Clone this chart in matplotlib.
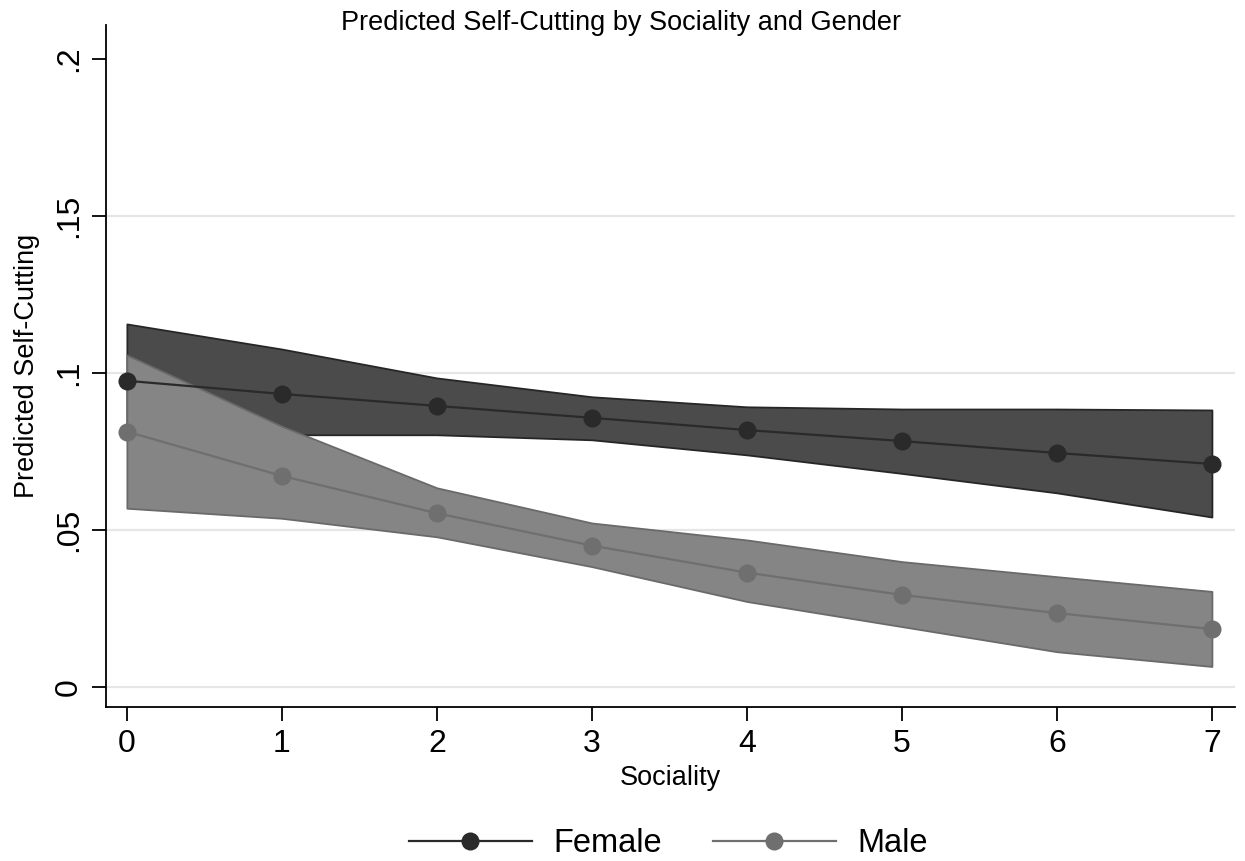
import matplotlib
matplotlib.use("Agg")
import matplotlib.pyplot as plt
from matplotlib.lines import Line2D

plt.rcParams['font.family'] = ['Liberation Sans', 'DejaVu Sans']

sociality = [0, 1, 2, 3, 4, 5, 6, 7]

female_pred = [0.0975, 0.0933, 0.0895, 0.0857, 0.0818, 0.0783, 0.0745, 0.0710]
female_upper = [0.1156, 0.1076, 0.0984, 0.0924, 0.0892, 0.0885, 0.0885, 0.0882]
female_lower = [0.0795, 0.0803, 0.0803, 0.0787, 0.0739, 0.0680, 0.0618, 0.0541]

male_pred = [0.0813, 0.0672, 0.0553, 0.0450, 0.0364, 0.0293, 0.0235, 0.0184]
male_upper = [0.1057, 0.0830, 0.0634, 0.0522, 0.0468, 0.0399, 0.0351, 0.0304]
male_lower = [0.0569, 0.0537, 0.0478, 0.0383, 0.0272, 0.0192, 0.0112, 0.0065]

y_ticks = [0, 0.05, 0.10, 0.15, 0.20]
y_tick_labels = ['0', '.05', '.1', '.15', '.2']

title = 'Predicted Self-Cutting by Sociality and Gender'
xlabel = 'Sociality'
ylabel = 'Predicted Self-Cutting'

fig = plt.figure(figsize=(12.45, 8.61), dpi=100)
ax = fig.add_axes([0.0851, 0.1789, 0.907, 0.792])

for yv in y_ticks[:-1]:
    ax.axhline(yv, color='#e6e6e6', lw=1.6, zorder=0)

ax.fill_between(sociality, female_lower, female_upper, facecolor='#4b4b4b',
                edgecolor='#262626', lw=1.3, zorder=1)
ax.fill_between(sociality, male_lower, male_upper, facecolor='#858585',
                edgecolor='#6a6a6a', lw=1.3, zorder=2)

ax.plot(sociality, female_pred, color='#2a2a2a', lw=1.6, marker='o',
        markersize=13, markerfacecolor='#2a2a2a', markeredgewidth=0, zorder=3)
ax.plot(sociality, male_pred, color='#6f6f6f', lw=1.6, marker='o',
        markersize=13, markerfacecolor='#6f6f6f', markeredgewidth=0, zorder=3)

ax.set_xlim(-0.135, 7.15)
ax.set_ylim(-0.0064, 0.2108)
ax.set_xticks(sociality)
ax.set_xticklabels([str(s) for s in sociality], fontsize=23)
ax.set_yticks(y_ticks)
ax.set_yticklabels(y_tick_labels, fontsize=23, rotation=90, va='center')

ax.tick_params(axis='both', length=10, width=1.3, color='black', pad=6)
for side in ['top', 'right']:
    ax.spines[side].set_visible(False)
for side in ['left', 'bottom']:
    ax.spines[side].set_linewidth(1.3)

fig.text(0.4992, 1 - 23 / 861, title, fontsize=19.5, ha='center', va='center')
ax.set_xlabel(xlabel, fontsize=19.5, labelpad=4)
ax.set_ylabel(ylabel, fontsize=19.5, labelpad=10)

handles = [
    Line2D([0], [0], color='#2a2a2a', lw=1.6, marker='o', markersize=13,
           markerfacecolor='#2a2a2a', markeredgewidth=0),
    Line2D([0], [0], color='#6f6f6f', lw=1.6, marker='o', markersize=13,
           markerfacecolor='#6f6f6f', markeredgewidth=0),
]
fig.legend(handles, ['Female', 'Male'], loc='center', bbox_to_anchor=(0.537, 1 - 844 / 861),
           ncol=2, frameon=False, fontsize=23.5, handlelength=3.77,
           columnspacing=1.55, handletextpad=0.67)

fig.savefig('out.png', dpi=100)
